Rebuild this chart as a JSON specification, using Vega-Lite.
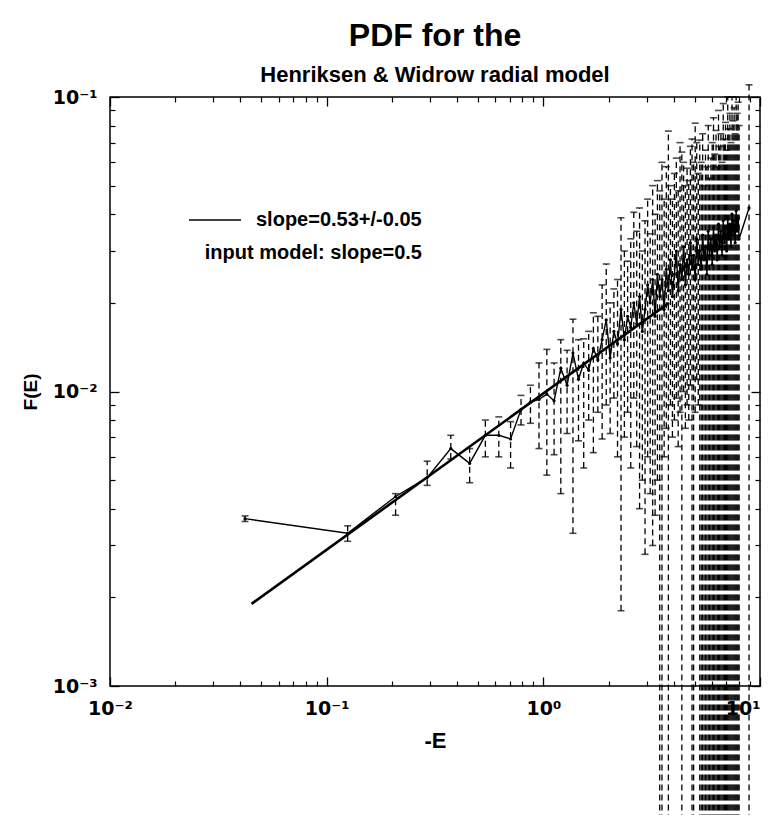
{
  "$schema": "https://vega.github.io/schema/vega-lite/v6.json",
  "width": 650,
  "height": 589,
  "autosize": {"type": "none"},
  "padding": {"left": 110, "top": 97, "right": 9, "bottom": 129},
  "background": "white",
  "title": {
    "text": "PDF for the",
    "subtitle": "Henriksen & Widrow radial model",
    "anchor": "middle",
    "font": "Liberation Sans",
    "fontSize": 32,
    "fontWeight": "bold",
    "color": "black",
    "subtitleFont": "Liberation Sans",
    "subtitleFontSize": 22,
    "subtitleFontWeight": "bold",
    "subtitleColor": "black",
    "subtitlePadding": 12,
    "offset": -3
  },
  "datasets": {
    "bins": [
      {"E": 0.042, "F": 0.0037, "lo": 0.00362, "hi": 0.00378},
      {"E": 0.125, "F": 0.0033, "lo": 0.0031, "hi": 0.0035},
      {"E": 0.208, "F": 0.0044, "lo": 0.0038, "hi": 0.0045},
      {"E": 0.291, "F": 0.0051, "lo": 0.0048, "hi": 0.0058},
      {"E": 0.374, "F": 0.0064, "lo": 0.0059, "hi": 0.0071},
      {"E": 0.457, "F": 0.0057, "lo": 0.0049, "hi": 0.0064},
      {"E": 0.540, "F": 0.0071, "lo": 0.0060, "hi": 0.0080},
      {"E": 0.623, "F": 0.0071, "lo": 0.0060, "hi": 0.0082},
      {"E": 0.706, "F": 0.0069, "lo": 0.0055, "hi": 0.0079},
      {"E": 0.789, "F": 0.0087, "lo": 0.0077, "hi": 0.0097},
      {"E": 0.872, "F": 0.0092, "lo": 0.0078, "hi": 0.0105},
      {"E": 0.955, "F": 0.0094, "lo": 0.0064, "hi": 0.0125},
      {"E": 1.038, "F": 0.0098, "lo": 0.0052, "hi": 0.0139},
      {"E": 1.121, "F": 0.0093, "lo": 0.0061, "hi": 0.0125},
      {"E": 1.204, "F": 0.0120, "lo": 0.0045, "hi": 0.0150},
      {"E": 1.287, "F": 0.0105, "lo": 0.0072, "hi": 0.0138},
      {"E": 1.370, "F": 0.0135, "lo": 0.0033, "hi": 0.0176},
      {"E": 1.453, "F": 0.0110, "lo": 0.0068, "hi": 0.0150},
      {"E": 1.536, "F": 0.0125, "lo": 0.0055, "hi": 0.0151},
      {"E": 1.619, "F": 0.0118, "lo": 0.0080, "hi": 0.0160},
      {"E": 1.702, "F": 0.0140, "lo": 0.0062, "hi": 0.0185},
      {"E": 1.785, "F": 0.0128, "lo": 0.0085, "hi": 0.0180},
      {"E": 1.868, "F": 0.0150, "lo": 0.0069, "hi": 0.0230},
      {"E": 1.951, "F": 0.0175, "lo": 0.0090, "hi": 0.0271},
      {"E": 2.034, "F": 0.0130, "lo": 0.0072, "hi": 0.0200},
      {"E": 2.117, "F": 0.0160, "lo": 0.0095, "hi": 0.0223},
      {"E": 2.200, "F": 0.0145, "lo": 0.0060, "hi": 0.0240},
      {"E": 2.283, "F": 0.0190, "lo": 0.0018, "hi": 0.0389},
      {"E": 2.366, "F": 0.0150, "lo": 0.0070, "hi": 0.0300},
      {"E": 2.449, "F": 0.0180, "lo": 0.0085, "hi": 0.0277},
      {"E": 2.532, "F": 0.0165, "lo": 0.0055, "hi": 0.0330},
      {"E": 2.615, "F": 0.0200, "lo": 0.0095, "hi": 0.0406},
      {"E": 2.698, "F": 0.0170, "lo": 0.0065, "hi": 0.0350},
      {"E": 2.781, "F": 0.0210, "lo": 0.0040, "hi": 0.0420},
      {"E": 2.864, "F": 0.0160, "lo": 0.0050, "hi": 0.0300},
      {"E": 2.947, "F": 0.0190, "lo": 0.0028, "hi": 0.0380},
      {"E": 3.030, "F": 0.0230, "lo": 0.0060, "hi": 0.0450},
      {"E": 3.113, "F": 0.0200, "lo": 0.0045, "hi": 0.0343},
      {"E": 3.196, "F": 0.0240, "lo": 0.0030, "hi": 0.0500},
      {"E": 3.279, "F": 0.0180, "lo": 0.0038, "hi": 0.0400},
      {"E": 3.362, "F": 0.0250, "lo": 0.0050, "hi": 0.0520},
      {"E": 3.445, "F": 0.0210, "lo": 0.0001, "hi": 0.0480},
      {"E": 3.528, "F": 0.0240, "lo": 0.0001, "hi": 0.0600},
      {"E": 3.611, "F": 0.0190, "lo": 0.0060, "hi": 0.0450},
      {"E": 3.694, "F": 0.0260, "lo": 0.0075, "hi": 0.0580},
      {"E": 3.777, "F": 0.0220, "lo": 0.0001, "hi": 0.0766},
      {"E": 3.860, "F": 0.0280, "lo": 0.0090, "hi": 0.0500},
      {"E": 3.943, "F": 0.0210, "lo": 0.0070, "hi": 0.0450},
      {"E": 4.026, "F": 0.0250, "lo": 0.0080, "hi": 0.0550},
      {"E": 4.109, "F": 0.0300, "lo": 0.0095, "hi": 0.0620},
      {"E": 4.192, "F": 0.0220, "lo": 0.0065, "hi": 0.0480},
      {"E": 4.275, "F": 0.0270, "lo": 0.0085, "hi": 0.0700},
      {"E": 4.358, "F": 0.0240, "lo": 0.0001, "hi": 0.0650},
      {"E": 4.441, "F": 0.0310, "lo": 0.0100, "hi": 0.0600},
      {"E": 4.524, "F": 0.0230, "lo": 0.0075, "hi": 0.0500},
      {"E": 4.607, "F": 0.0280, "lo": 0.0090, "hi": 0.0573},
      {"E": 4.690, "F": 0.0250, "lo": 0.0080, "hi": 0.0520},
      {"E": 4.773, "F": 0.0320, "lo": 0.0105, "hi": 0.0680},
      {"E": 4.856, "F": 0.0260, "lo": 0.0001, "hi": 0.0720},
      {"E": 4.939, "F": 0.0290, "lo": 0.0001, "hi": 0.0600},
      {"E": 5.022, "F": 0.0240, "lo": 0.0085, "hi": 0.0815},
      {"E": 5.105, "F": 0.0330, "lo": 0.0110, "hi": 0.0700},
      {"E": 5.188, "F": 0.0270, "lo": 0.0090, "hi": 0.0550},
      {"E": 5.271, "F": 0.0300, "lo": 0.0001, "hi": 0.0714},
      {"E": 5.354, "F": 0.0260, "lo": 0.0001, "hi": 0.0600},
      {"E": 5.437, "F": 0.0340, "lo": 0.0001, "hi": 0.0750},
      {"E": 5.520, "F": 0.0280, "lo": 0.0001, "hi": 0.0500},
      {"E": 5.603, "F": 0.0310, "lo": 0.0001, "hi": 0.0660},
      {"E": 5.686, "F": 0.0250, "lo": 0.0001, "hi": 0.0580},
      {"E": 5.769, "F": 0.0350, "lo": 0.0001, "hi": 0.0800},
      {"E": 5.852, "F": 0.0290, "lo": 0.0001, "hi": 0.0530},
      {"E": 5.935, "F": 0.0330, "lo": 0.0001, "hi": 0.0620},
      {"E": 6.018, "F": 0.0270, "lo": 0.0001, "hi": 0.0700},
      {"E": 6.101, "F": 0.0360, "lo": 0.0001, "hi": 0.0850},
      {"E": 6.184, "F": 0.0300, "lo": 0.0001, "hi": 0.0640},
      {"E": 6.267, "F": 0.0340, "lo": 0.0001, "hi": 0.0770},
      {"E": 6.350, "F": 0.0280, "lo": 0.0001, "hi": 0.0580},
      {"E": 6.433, "F": 0.0370, "lo": 0.0001, "hi": 0.0900},
      {"E": 6.516, "F": 0.0310, "lo": 0.0001, "hi": 0.0680},
      {"E": 6.599, "F": 0.0350, "lo": 0.0001, "hi": 0.0750},
      {"E": 6.682, "F": 0.0290, "lo": 0.0001, "hi": 0.0600},
      {"E": 6.765, "F": 0.0380, "lo": 0.0001, "hi": 0.0950},
      {"E": 6.848, "F": 0.0320, "lo": 0.0001, "hi": 0.0720},
      {"E": 6.931, "F": 0.0360, "lo": 0.0001, "hi": 0.0820},
      {"E": 7.014, "F": 0.0300, "lo": 0.0001, "hi": 0.0660},
      {"E": 7.097, "F": 0.0390, "lo": 0.0001, "hi": 0.1000},
      {"E": 7.180, "F": 0.0330, "lo": 0.0001, "hi": 0.0780},
      {"E": 7.263, "F": 0.0370, "lo": 0.0001, "hi": 0.0880},
      {"E": 7.346, "F": 0.0310, "lo": 0.0001, "hi": 0.0700},
      {"E": 7.429, "F": 0.0400, "lo": 0.0001, "hi": 0.1000},
      {"E": 7.512, "F": 0.0340, "lo": 0.0001, "hi": 0.0830},
      {"E": 7.595, "F": 0.0380, "lo": 0.0001, "hi": 0.0920},
      {"E": 7.678, "F": 0.0320, "lo": 0.0001, "hi": 0.0750},
      {"E": 7.761, "F": 0.0410, "lo": 0.0001, "hi": 0.1000},
      {"E": 7.844, "F": 0.0350, "lo": 0.0001, "hi": 0.0880},
      {"E": 7.927, "F": 0.0390, "lo": 0.0001, "hi": 0.0960},
      {"E": 8.010, "F": 0.0330, "lo": 0.0001, "hi": 0.0800},
      {"E": 8.900, "F": 0.0420, "lo": 0.0001, "hi": 0.1100}
    ],
    "fit": [
      {"E": 0.045, "F": 0.0019, "series": "slope=0.53+/-0.05"},
      {"E": 3.8, "F": 0.0200, "series": "slope=0.53+/-0.05"}
    ]
  },
  "layer": [
    {
      "data": {"name": "bins"},
      "mark": {"type": "rule", "color": "black", "strokeWidth": 1.3, "strokeDash": [6, 4]},
      "encoding": {
        "x": {"field": "E", "type": "quantitative",
          "scale": {"type": "log", "domain": [0.01, 10], "nice": false},
          "axis": {"orient": "bottom", "values": [0.01, 0.1, 1, 10], "ticks": false, "domain": false, "grid": false,
            "labelExpr": "datum.value < 0.05 ? '10⁻²' : datum.value < 0.5 ? '10⁻¹' : datum.value < 5 ? '10⁰' : '10¹'",
            "labelAlign": {"condition": {"test": "datum.value > 5", "value": "right"}, "value": "center"},
            "labelFont": "DejaVu Sans", "labelFontSize": 19, "labelFontWeight": "bold", "labelColor": "black",
            "labelPadding": 13, "labelFlush": false, "labelOverlap": false,
            "title": "-E", "titleFont": "Liberation Sans", "titleFontSize": 22, "titleFontWeight": "bold", "titleColor": "black", "titlePadding": 12}},
        "y": {"field": "lo", "type": "quantitative",
          "scale": {"type": "log", "domain": [0.001, 0.1], "nice": false},
          "axis": {"orient": "left", "values": [0.001, 0.01, 0.1], "ticks": false, "domain": false, "grid": false,
            "labelExpr": "datum.value < 0.005 ? '10⁻³' : datum.value < 0.05 ? '10⁻²' : '10⁻¹'",
            "labelFont": "DejaVu Sans", "labelFontSize": 19, "labelFontWeight": "bold", "labelColor": "black",
            "labelPadding": 13, "labelFlush": false, "labelOverlap": false,
            "title": "F(E)", "titleFont": "Liberation Sans", "titleFontSize": 19, "titleFontWeight": "bold", "titleColor": "black", "titlePadding": 12}},
        "y2": {"field": "hi"}
      }
    },
    {
      "data": {"name": "bins"},
      "mark": {"type": "tick", "orient": "horizontal", "color": "black", "size": 7, "thickness": 1.6},
      "encoding": {
        "x": {"field": "E", "type": "quantitative",
          "scale": {"type": "log", "domain": [0.01, 10], "nice": false},
          "axis": {"orient": "bottom", "offset": -5, "values": [0.02,0.03,0.04,0.05,0.06,0.07,0.08,0.09,0.2,0.3,0.4,0.5,0.6,0.7,0.8,0.9,2,3,4,5,6,7,8,9],
            "labels": false, "domain": false, "grid": false, "tickSize": 5, "tickColor": "black", "tickWidth": 1.2, "title": null}},
        "y": {"field": "hi", "type": "quantitative",
          "scale": {"type": "log", "domain": [0.001, 0.1], "nice": false},
          "axis": {"orient": "left", "offset": -5, "values": [0.002,0.003,0.004,0.005,0.006,0.007,0.008,0.009,0.02,0.03,0.04,0.05,0.06,0.07,0.08,0.09],
            "labels": false, "domain": false, "grid": false, "tickSize": 5, "tickColor": "black", "tickWidth": 1.2, "title": null}}
      }
    },
    {
      "data": {"name": "bins"},
      "mark": {"type": "tick", "orient": "horizontal", "color": "black", "size": 7, "thickness": 1.6},
      "encoding": {
        "x": {"field": "E", "type": "quantitative",
          "scale": {"type": "log", "domain": [0.01, 10], "nice": false},
          "axis": {"orient": "top", "offset": -5, "values": [0.02,0.03,0.04,0.05,0.06,0.07,0.08,0.09,0.2,0.3,0.4,0.5,0.6,0.7,0.8,0.9,2,3,4,5,6,7,8,9],
            "labels": false, "domain": false, "grid": false, "tickSize": 5, "tickColor": "black", "tickWidth": 1.2, "title": null}},
        "y": {"field": "lo", "type": "quantitative",
          "scale": {"type": "log", "domain": [0.001, 0.1], "nice": false},
          "axis": {"orient": "right", "offset": -5, "values": [0.002,0.003,0.004,0.005,0.006,0.007,0.008,0.009,0.02,0.03,0.04,0.05,0.06,0.07,0.08,0.09],
            "labels": false, "domain": false, "grid": false, "tickSize": 5, "tickColor": "black", "tickWidth": 1.2, "title": null}}
      }
    },
    {
      "data": {"name": "bins"},
      "mark": {"type": "line", "color": "black", "strokeWidth": 1.4, "point": {"filled": true, "size": 10, "color": "black"}},
      "encoding": {
        "x": {"field": "E", "type": "quantitative",
          "scale": {"type": "log", "domain": [0.01, 10], "nice": false},
          "axis": {"orient": "bottom", "offset": -9, "values": [0.01, 0.1, 1, 10], "labels": false, "domain": false, "grid": false, "tickSize": 9, "tickColor": "black", "tickWidth": 1.3, "title": null}},
        "y": {"field": "F", "type": "quantitative",
          "scale": {"type": "log", "domain": [0.001, 0.1], "nice": false},
          "axis": {"orient": "left", "offset": -9, "values": [0.001, 0.01, 0.1], "labels": false, "domain": false, "grid": false, "tickSize": 9, "tickColor": "black", "tickWidth": 1.3, "title": null}}
      }
    },
    {
      "data": {"name": "fit"},
      "mark": {"type": "line", "strokeWidth": 2.6},
      "encoding": {
        "x": {"field": "E", "type": "quantitative",
          "scale": {"type": "log", "domain": [0.01, 10], "nice": false},
          "axis": {"orient": "top", "offset": -9, "values": [0.01, 0.1, 1, 10], "labels": false, "domain": false, "grid": false, "tickSize": 9, "tickColor": "black", "tickWidth": 1.3, "title": null}},
        "y": {"field": "F", "type": "quantitative",
          "scale": {"type": "log", "domain": [0.001, 0.1], "nice": false},
          "axis": {"orient": "right", "offset": -9, "values": [0.001, 0.01, 0.1], "labels": false, "domain": false, "grid": false, "tickSize": 9, "tickColor": "black", "tickWidth": 1.3, "title": null}},
        "stroke": {"field": "series", "type": "nominal", "scale": {"range": ["black"]},
          "legend": {"orient": "none", "legendX": 78, "legendY": 96,
            "title": "input model: slope=0.5", "titleOrient": "bottom", "titleAnchor": "end", "titlePadding": 13,
            "titleFont": "Liberation Sans", "titleFontSize": 20, "titleFontWeight": "bold", "titleColor": "black", "titleLimit": 400,
            "labelFont": "Liberation Sans", "labelFontSize": 20, "labelFontWeight": "bold", "labelColor": "black", "labelLimit": 400, "labelOffset": 14,
            "symbolType": "stroke", "symbolSize": 2700, "symbolStrokeWidth": 1.6}}
      }
    }
  ],
  "resolve": {"axis": {"x": "independent", "y": "independent"}},
  "config": {
    "view": {"stroke": "black", "strokeWidth": 1.5},
    "font": "Liberation Sans"
  }
}
